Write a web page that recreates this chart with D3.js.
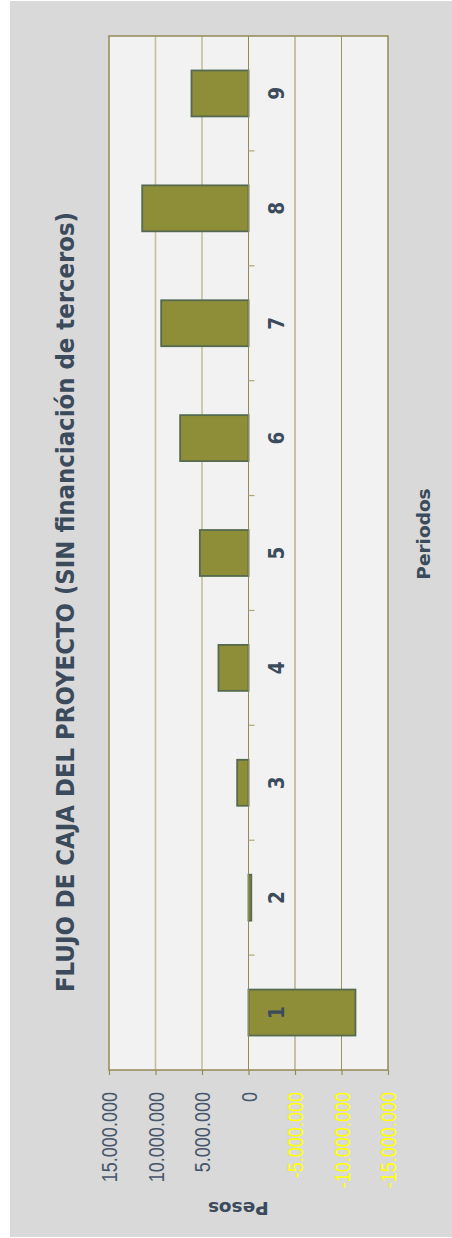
<!DOCTYPE html>
<html><head><meta charset="utf-8">
<script src="https://cdn.jsdelivr.net/npm/d3@7"></script>
<style>html,body{margin:0;padding:0;background:#fff;}svg{display:block;}</style>
</head><body>
<script>
const categories = ["1","2","3","4","5","6","7","8","9"];
const values = [-11500000,-300000,1220000,3230000,5230000,7350000,9390000,11430000,6130000];
const valueTicks = [-15000000,-10000000,-5000000,0,5000000,10000000,15000000];
const titleText = "FLUJO DE CAJA DEL PROYECTO (SIN financiación de terceros)";
const xTitle = "Periodos";
const yTitle = "Pesos";

const W = 452, H = 1238;
const svg = d3.select("body").append("svg").attr("width", W).attr("height", H);
// chart drawn in a rotated frame (local u = 1238 - screenY, local v = screenX)
const g = svg.append("g").attr("transform", `translate(0,${H}) rotate(-90)`);
g.append("rect").attr("x", 1).attr("y", 10).attr("width", 1236).attr("height", 442).attr("fill", "#d9d9d9");

const plot = {l: 168, r: 1202, t: 109, b: 388};
const x = d3.scaleBand().domain(categories).range([plot.l, plot.r]).paddingInner(0.6).paddingOuter(0.3);
const y = d3.scaleLinear().domain([-15000000, 15000000]).range([plot.b, plot.t]);
const textCol = "#3b4b5c";
const olive = "#948a54";

g.append("rect").attr("x", plot.l).attr("y", plot.t).attr("width", plot.r - plot.l).attr("height", plot.b - plot.t).attr("fill", "#f2f2f2");

// gridlines
g.selectAll(".grid").data(valueTicks.filter(t => t !== 0 && Math.abs(t) < 15000000)).join("line")
  .attr("class", "grid")
  .attr("x1", plot.l).attr("x2", plot.r)
  .attr("y1", d => y(d)).attr("y2", d => y(d))
  .attr("stroke", d => d > 0 ? "#c5be98" : "#9a9260")
  .attr("stroke-width", d => d > 0 ? 1.6 : 1);

// bars
g.selectAll(".bar").data(values).join("rect")
  .attr("class", "bar")
  .attr("x", (d, i) => x(categories[i]))
  .attr("width", x.bandwidth())
  .attr("y", d => Math.min(y(d), y(0)))
  .attr("height", d => Math.abs(y(d) - y(0)))
  .attr("fill", "#8e8e38")
  .attr("stroke", "#556a4f")
  .attr("stroke-width", 1.8);

// zero (category) axis line
g.append("line").attr("x1", plot.l).attr("x2", plot.r).attr("y1", y(0)).attr("y2", y(0))
  .attr("stroke", olive).attr("stroke-width", 1);

// category tick marks between categories
const bounds = categories.slice(1).map((c, i) => (x(categories[i]) + x.bandwidth() + x(c)) / 2);
g.selectAll(".ctick").data(bounds).join("line")
  .attr("class", "ctick")
  .attr("x1", d => d).attr("x2", d => d)
  .attr("y1", y(0)).attr("y2", y(0) + 6)
  .attr("stroke", "#b0a878").attr("stroke-width", 1.2);

// category labels
g.selectAll(".clabel").data(categories).join("text")
  .attr("class", "clabel")
  .attr("transform", d => `translate(${x(d) + x.bandwidth() / 2},284) scale(0.9,1)`)
  .attr("text-anchor", "middle")
  .attr("font-family", "DejaVu Sans, sans-serif")
  .attr("font-weight", "bold")
  .attr("font-size", 20.5)
  .attr("fill", textCol)
  .text(d => d);

// plot border
g.append("rect").attr("x", plot.l).attr("y", plot.t).attr("width", plot.r - plot.l).attr("height", plot.b - plot.t)
  .attr("fill", "none").attr("stroke", olive).attr("stroke-width", 1.5);

// value axis
const loc = d3.formatLocale({decimal: ",", thousands: ".", grouping: [3], currency: ["$", ""], minus: "-"});
const fmt = loc.format(",.0f");
const ax = g.append("g").attr("transform", `translate(${plot.l},0)`)
  .call(d3.axisLeft(y).tickValues(valueTicks).tickSize(5).tickFormat(fmt));
ax.select(".domain").remove();
ax.selectAll(".tick line").attr("stroke", olive).attr("stroke-width", 1.2);
ax.selectAll(".tick text")
  .attr("x", 0)
  .attr("dy", "0.36em")
  .attr("transform", "translate(-22,0) scale(0.82,1)")
  .attr("font-family", "Liberation Sans, Arial, sans-serif")
  .attr("font-size", 22)
  .attr("fill", d => d < 0 ? "#ffff00" : "#47566a");

// title
g.append("text")
  .attr("x", 636).attr("y", 74)
  .attr("text-anchor", "middle")
  .attr("font-family", "DejaVu Sans, sans-serif")
  .attr("font-weight", "bold")
  .attr("font-size", 24)
  .attr("textLength", 780)
  .attr("lengthAdjust", "spacingAndGlyphs")
  .attr("fill", textCol)
  .text(titleText);

// axis titles
g.append("text")
  .attr("x", 704).attr("y", 430)
  .attr("text-anchor", "middle")
  .attr("font-family", "DejaVu Sans, sans-serif")
  .attr("font-weight", "bold")
  .attr("font-size", 18.5)
  .attr("fill", textCol)
  .text(xTitle);

g.append("text")
  .attr("transform", "translate(36,238.3) rotate(-90)")
  .attr("text-anchor", "middle")
  .attr("font-family", "DejaVu Sans, sans-serif")
  .attr("font-weight", "bold")
  .attr("font-size", 18.5)
  .attr("fill", textCol)
  .text(yTitle);
</script>
</body></html>
